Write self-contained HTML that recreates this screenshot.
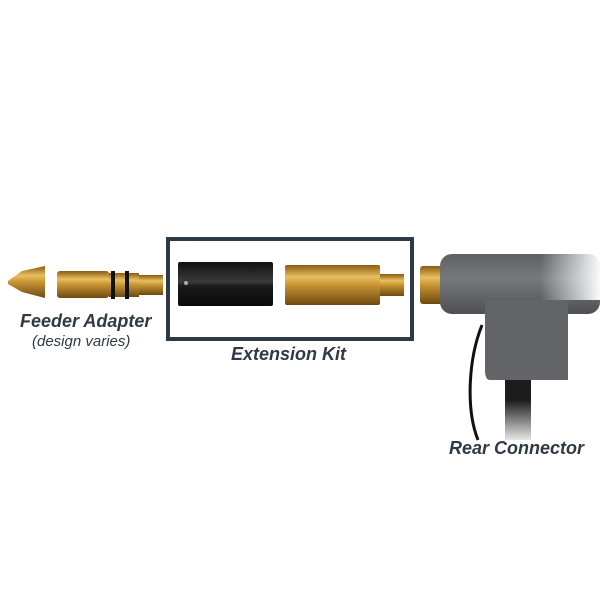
<!DOCTYPE html>
<html><head><style>
body{margin:0;background:#fff;}
.t{position:absolute;font-family:"Liberation Sans",sans-serif;color:#2f3a45;font-style:italic;white-space:nowrap;}
</style></head><body>
<div style="position:relative;width:600px;height:600px;overflow:hidden;background:#fff">
<svg width="600" height="600" style="position:absolute;left:0;top:0">
<defs>
<linearGradient id="br" x1="0" y1="0" x2="0" y2="1">
<stop offset="0" stop-color="#8a5a12"/><stop offset="0.3" stop-color="#e8c060"/><stop offset="0.5" stop-color="#c89433"/><stop offset="1" stop-color="#6e4a10"/></linearGradient>
<linearGradient id="bk" x1="0" y1="0" x2="0" y2="1">
<stop offset="0" stop-color="#111"/><stop offset="0.45" stop-color="#3a3a3a"/><stop offset="0.55" stop-color="#1a1a1a"/><stop offset="1" stop-color="#0a0a0a"/></linearGradient>
<linearGradient id="gr" x1="0" y1="0" x2="0" y2="1">
<stop offset="0" stop-color="#5d5f62"/><stop offset="0.4" stop-color="#77797c"/><stop offset="1" stop-color="#4e5053"/></linearGradient>
<linearGradient id="fade" x1="0" y1="0" x2="1" y2="0">
<stop offset="0" stop-color="#fff" stop-opacity="0"/><stop offset="1" stop-color="#fff" stop-opacity="1"/></linearGradient>
<linearGradient id="fadev" x1="0" y1="0" x2="0" y2="1">
<stop offset="0" stop-color="#fff" stop-opacity="0"/><stop offset="1" stop-color="#fff" stop-opacity="1"/></linearGradient>
</defs>
<polygon points="8,281 22,271 45,266 45,298 22,292 8,284" fill="url(#br)"/>
<rect x="57" y="271" width="52" height="27" rx="3" fill="url(#br)"/>
<rect x="109" y="273" width="30" height="24" fill="url(#br)"/>
<rect x="111" y="271" width="4" height="28" fill="#111"/>
<rect x="125" y="271" width="4" height="28" fill="#111"/>
<rect x="139" y="275" width="24" height="20" fill="url(#br)"/>
<rect x="168" y="239" width="244" height="100" fill="none" stroke="#2e3a46" stroke-width="4"/>
<rect x="178" y="262" width="95" height="44" rx="2" fill="url(#bk)"/>
<circle cx="186" cy="283" r="2" fill="#aaa"/>
<rect x="285" y="265" width="95" height="40" rx="2" fill="url(#br)"/>
<rect x="380" y="274" width="24" height="22" fill="url(#br)"/>
<path d="M482 325 C468 360 466 410 478 440" stroke="#111" stroke-width="3" fill="none"/>
<rect x="505" y="370" width="26" height="70" fill="#1c1c1c"/>
<rect x="500" y="400" width="40" height="45" fill="url(#fadev)"/>
<rect x="420" y="266" width="32" height="38" rx="3" fill="url(#br)"/>
<rect x="440" y="254" width="160" height="60" rx="12" fill="url(#gr)"/>
<rect x="540" y="250" width="62" height="50" fill="url(#fade)"/>
<path d="M485 300 L568 300 L568 380 L490 380 Q485 380 485 370 Z" fill="#626467"/>
</svg>
<div class="t" style="left:20px;top:311px;font-size:18px;font-weight:bold">Feeder Adapter</div>
<div class="t" style="left:32px;top:333px;font-size:15px">(design varies)</div>
<div class="t" style="left:231px;top:344px;font-size:18px;font-weight:bold">Extension Kit</div>
<div class="t" style="left:449px;top:438px;font-size:18px;font-weight:bold">Rear Connector</div>
</div>
</body></html>
